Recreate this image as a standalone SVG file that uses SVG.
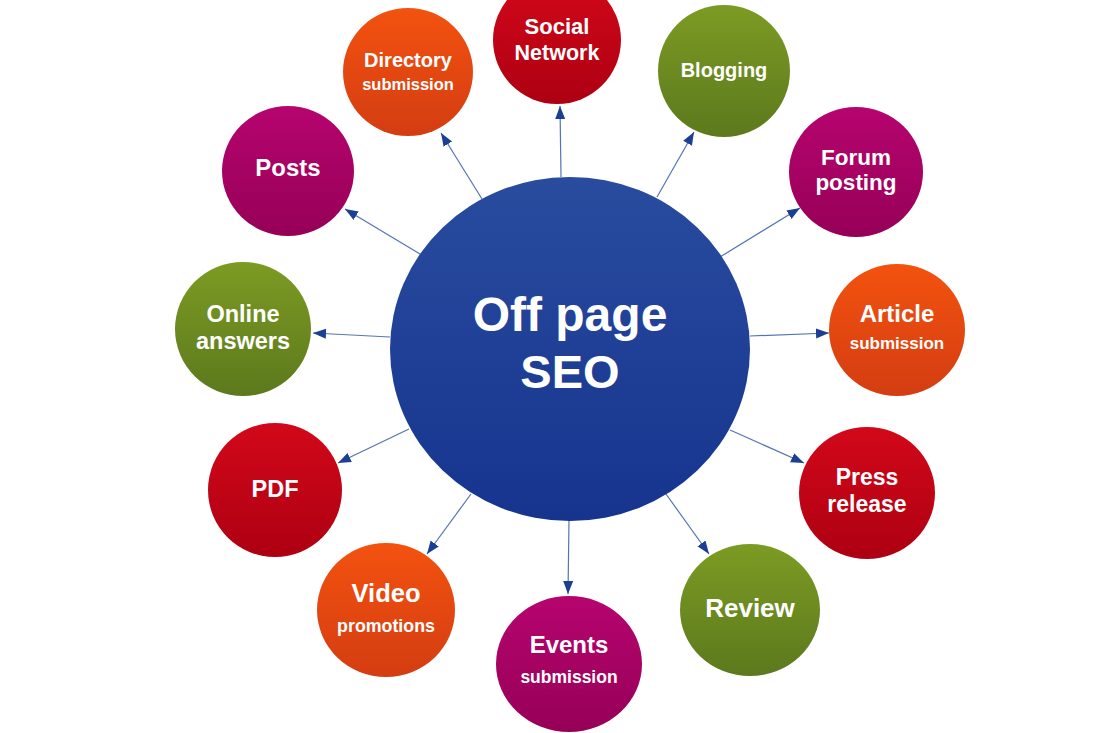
<svg xmlns="http://www.w3.org/2000/svg" width="1100" height="733" viewBox="0 0 1100 733">
<defs>
<linearGradient id="gOrange" x1="0" y1="0" x2="0" y2="1"><stop offset="0" stop-color="#f3520f"/><stop offset="1" stop-color="#d43d12"/></linearGradient>
<linearGradient id="gRed" x1="0" y1="0" x2="0" y2="1"><stop offset="0" stop-color="#d2081a"/><stop offset="1" stop-color="#ad0012"/></linearGradient>
<linearGradient id="gGreen" x1="0" y1="0" x2="0" y2="1"><stop offset="0" stop-color="#7c9b23"/><stop offset="1" stop-color="#5c791d"/></linearGradient>
<linearGradient id="gMag" x1="0" y1="0" x2="0" y2="1"><stop offset="0" stop-color="#b6046f"/><stop offset="1" stop-color="#960057"/></linearGradient>
<linearGradient id="gBlue" x1="0" y1="0" x2="0" y2="1"><stop offset="0" stop-color="#294c9f"/><stop offset="1" stop-color="#16348e"/></linearGradient>
<marker id="arr" markerUnits="userSpaceOnUse" markerWidth="14" markerHeight="12" refX="13" refY="5" orient="auto"><path d="M0,0 L13,5 L0,10 Z" fill="#1b3f92"/></marker>
<style>
.t{font-family:"Liberation Sans",Arial,sans-serif;font-weight:bold;fill:#ffffff;text-anchor:middle}
.cn{stroke:#5573b4;stroke-width:1.2;fill:none;marker-end:url(#arr)}
</style>
</defs>
<rect width="1100" height="733" fill="#ffffff"/>
<g id="connectors">
<line class="cn" x1="482" y1="199" x2="441" y2="133"/>
<line class="cn" x1="561" y1="177" x2="560" y2="106"/>
<line class="cn" x1="657" y1="197" x2="694" y2="132"/>
<line class="cn" x1="720" y1="257" x2="800" y2="208"/>
<line class="cn" x1="750" y1="336" x2="829" y2="333"/>
<line class="cn" x1="730" y1="430" x2="804" y2="463"/>
<line class="cn" x1="666" y1="494" x2="709" y2="554"/>
<line class="cn" x1="569" y1="520" x2="568" y2="594"/>
<line class="cn" x1="471" y1="494" x2="427" y2="554"/>
<line class="cn" x1="409" y1="429" x2="338" y2="463"/>
<line class="cn" x1="390" y1="337" x2="313" y2="333"/>
<line class="cn" x1="420" y1="254" x2="345" y2="209"/>
</g>
<g id="center">
<ellipse cx="570" cy="349" rx="180" ry="172" fill="url(#gBlue)"/>
<text class="t" x="570" y="331" font-size="48">Off page</text>
<text class="t" x="570" y="388" font-size="47">SEO</text>
</g>
<g id="directory">
<ellipse cx="408" cy="72" rx="65" ry="64" fill="url(#gOrange)"/>
<text class="t" x="408" y="67" font-size="20">Directory</text>
<text class="t" x="408" y="90" font-size="16.5">submission</text>
</g>
<g id="social">
<ellipse cx="557" cy="40" rx="64" ry="64" fill="url(#gRed)"/>
<text class="t" x="557" y="34" font-size="22">Social</text>
<text class="t" x="557" y="60" font-size="21.5">Network</text>
</g>
<g id="blogging">
<ellipse cx="724" cy="71" rx="66" ry="66" fill="url(#gGreen)"/>
<text class="t" x="724" y="77" font-size="20">Blogging</text>
</g>
<g id="forum">
<ellipse cx="856" cy="172" rx="67" ry="65" fill="url(#gMag)"/>
<text class="t" x="856" y="165" font-size="22.5">Forum</text>
<text class="t" x="856" y="190" font-size="22.5">posting</text>
</g>
<g id="article">
<ellipse cx="897" cy="330" rx="68" ry="66" fill="url(#gOrange)"/>
<text class="t" x="897" y="322" font-size="24">Article</text>
<text class="t" x="897" y="349" font-size="17">submission</text>
</g>
<g id="press">
<ellipse cx="867" cy="493" rx="68" ry="66" fill="url(#gRed)"/>
<text class="t" x="867" y="485" font-size="23">Press</text>
<text class="t" x="867" y="512" font-size="23">release</text>
</g>
<g id="review">
<ellipse cx="750" cy="610" rx="70" ry="66" fill="url(#gGreen)"/>
<text class="t" x="750" y="617" font-size="26">Review</text>
</g>
<g id="events">
<ellipse cx="569" cy="664" rx="73" ry="68" fill="url(#gMag)"/>
<text class="t" x="569" y="653" font-size="24">Events</text>
<text class="t" x="569" y="683" font-size="17.5">submission</text>
</g>
<g id="video">
<ellipse cx="386" cy="610" rx="69" ry="67" fill="url(#gOrange)"/>
<text class="t" x="386" y="602" font-size="25.5">Video</text>
<text class="t" x="386" y="632" font-size="17.8">promotions</text>
</g>
<g id="pdf">
<ellipse cx="275" cy="490" rx="67" ry="67" fill="url(#gRed)"/>
<text class="t" x="275" y="497" font-size="23.5">PDF</text>
</g>
<g id="online">
<ellipse cx="243" cy="329" rx="68" ry="67" fill="url(#gGreen)"/>
<text class="t" x="243" y="322" font-size="23.5">Online</text>
<text class="t" x="243" y="349" font-size="23.5">answers</text>
</g>
<g id="posts">
<ellipse cx="288" cy="171" rx="66" ry="65" fill="url(#gMag)"/>
<text class="t" x="288" y="176" font-size="24">Posts</text>
</g>
</svg>
